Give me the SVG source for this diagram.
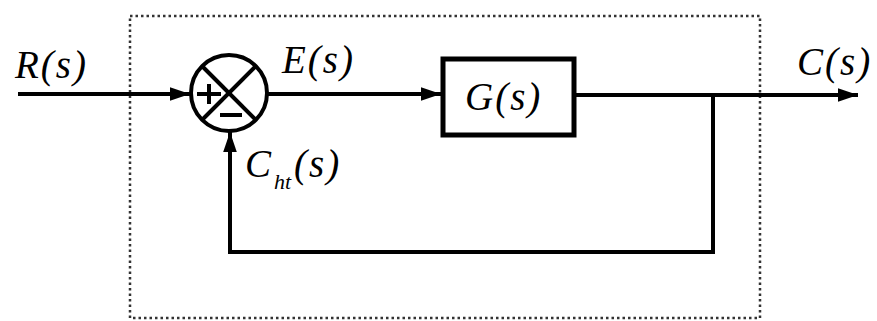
<svg xmlns="http://www.w3.org/2000/svg" width="877" height="321" viewBox="0 0 877 321">
<style>
.ln{fill:none;stroke:#000;stroke-width:4}
.lbl{font-family:"Liberation Serif",serif;font-style:italic;font-size:39px;fill:#000;letter-spacing:2px}
.sub{font-family:"Liberation Serif",serif;font-style:italic;font-size:22px;fill:#000}
</style>
<defs>
<marker id="ah" markerWidth="5" markerHeight="3.4" refX="5" refY="1.7" orient="auto" markerUnits="strokeWidth">
<path d="M0,0 L5,1.7 L0,3.4 Z" fill="#000"/>
</marker>
</defs>
<rect x="130" y="16" width="630" height="302" fill="none" stroke="#333" stroke-width="2.5" stroke-dasharray="2.5,3"/>
<g id="sum">
<circle cx="229" cy="93" r="38" fill="#fff" stroke="#000" stroke-width="4"/>
<line x1="202" y1="66" x2="256" y2="120" class="ln" stroke-width="3.5"/>
<line x1="256" y1="66" x2="202" y2="120" class="ln" stroke-width="3.5"/>
<line x1="197" y1="94" x2="221" y2="94" class="ln" stroke-width="3"/>
<line x1="209" y1="84" x2="209" y2="104" class="ln" stroke-width="3"/>
<line x1="220" y1="115" x2="242" y2="115" class="ln" stroke-width="3"/>
</g>
<g id="G">
<rect x="443" y="59" width="131" height="76" fill="#fff" stroke="#000" stroke-width="5"/>
<text x="465" y="110" class="lbl">G(s)</text>
</g>
<g id="connectors">
<line x1="18" y1="94" x2="190" y2="94" class="ln" marker-end="url(#ah)"/>
<line x1="267" y1="94" x2="441" y2="94" class="ln" marker-end="url(#ah)"/>
<line x1="574" y1="95" x2="858" y2="95" class="ln" marker-end="url(#ah)"/>
<polyline points="713,95 713,252 230,252 230,132" class="ln" marker-end="url(#ah)"/>
</g>
<g id="labels">
<text x="245" y="177" class="lbl" style="letter-spacing:0">C</text>
<text x="274" y="189" class="sub">ht</text>
<text x="294" y="177" class="lbl">(s)</text>
<text x="15" y="78" class="lbl">R(s)</text>
<text x="282" y="73" class="lbl">E(s)</text>
<text x="797" y="75" class="lbl">C(s)</text>
</g>
</svg>
